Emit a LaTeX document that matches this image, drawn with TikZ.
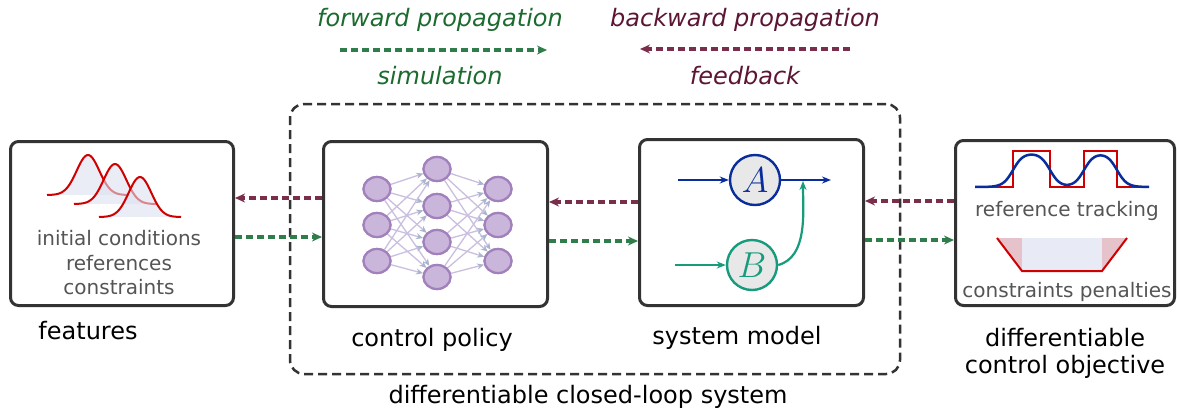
\documentclass[tikz,border=0pt]{standalone}
\usepackage{graphicx}
\usepackage{fontspec}
\setmainfont{DejaVu Sans}
\usetikzlibrary{arrows.meta,shapes.geometric}
\definecolor{boxgray}{HTML}{333333}
\definecolor{fgreen}{HTML}{2E7D4A}
\definecolor{ftext}{HTML}{1B6B2F}
\definecolor{bred}{HTML}{7A2E4B}
\definecolor{btext}{HTML}{5C1634}
\definecolor{nnfill}{HTML}{C9B6DA}
\definecolor{nndraw}{HTML}{A280BC}
\definecolor{nnedgec}{HTML}{CBBFE0}
\definecolor{nnarrow}{HTML}{A9B5CC}
\definecolor{ablue}{HTML}{0A2D9C}
\definecolor{bteal}{HTML}{169B7C}
\definecolor{cgray}{HTML}{E8E8E8}
\definecolor{txtgray}{HTML}{555555}
\definecolor{gfill}{HTML}{DDE1F0}
\definecolor{sred}{HTML}{D00000}
\definecolor{pinkf}{HTML}{E6C3CB}
\definecolor{rectf}{HTML}{E8EAF5}
\begin{document}
\begin{tikzpicture}[x=1pt,y=-1pt,
  declare function={sg(\u)=1/(1+exp(min(9,max(-9,-\u/5))));},
  bigbox/.style={draw=boxgray, line width=3pt, rounded corners=8pt, fill=white},
  lbl/.style={font=\fontsize{24}{27}\selectfont, text=black, align=center},
  innertxt/.style={font=\fontsize{20}{24.5}\selectfont, text=txtgray, align=center},
  legf/.style={font=\fontsize{24}{27}\selectfont\itshape, text=ftext},
  legb/.style={font=\fontsize{24}{27}\selectfont\itshape, text=btext},
  fwd/.style={draw=fgreen, line width=3.5pt, dash pattern=on 7pt off 4pt, -{Stealth[length=10pt,width=9pt]}},
  bwd/.style={draw=bred, line width=3.5pt, dash pattern=on 7pt off 4pt, -{Stealth[length=10pt,width=9pt]}},
  loopbox/.style={draw=boxgray, line width=2.5pt, dash pattern=on 9pt off 5pt, rounded corners=14pt},
  nn/.style={ellipse, draw=nndraw, fill=nnfill, line width=2.2pt, minimum width=27pt, minimum height=24pt, inner sep=0pt},
  nnlink/.style={draw=nnedgec, line width=1.3pt, -{Stealth[length=7pt,width=6pt,color=nnarrow]}},
  sysnode/.style={circle, line width=2.4pt, fill=cgray, minimum size=50pt, inner sep=0pt, font=\fontsize{24}{24}\selectfont},
]
\useasboundingbox (0,0) rectangle (1177,413);

% legend
\node[legf] (tf) at (440,20) {forward propagation};
\node[legf] (ts) at (440,76) {simulation};
\node[legb] (tb) at (745,20) {backward propagation};
\node[legb] (tfb) at (745,76) {feedback};
\coordinate (lf1) at (340,50);
\coordinate (lf2) at (547,50);
\coordinate (lb1) at (850,49);
\coordinate (lb2) at (640,49);
\draw[fwd] (lf1) -- (lf2);
\draw[bwd] (lb1) -- (lb2);

% closed loop dashed box
\node[loopbox, minimum width=610pt, minimum height=270pt] (loop) at (595,239) {};
\node[lbl] (loopl) at (588,397) {differentiable closed-loop system};

% boxes
\node[bigbox, minimum width=223pt, minimum height=164pt] (feat) at (122,223.5) {};
\node[bigbox, minimum width=224pt, minimum height=165pt] (ctrl) at (435.5,224) {};
\node[bigbox, minimum width=224pt, minimum height=166pt] (sys) at (751.5,222.5) {};
\node[bigbox, minimum width=219pt, minimum height=165pt] (obj) at (1065,223) {};

\node[lbl] (featl) at (88,331) {features};
\node[lbl] (ctrll) at (432,340) {control policy};
\node[lbl] (sysl) at (737,338) {system model};
\node[lbl] (objl) at (1065,353) {differentiable\\control objective};

% connectors between boxes
\draw[bwd] (ctrl.west |- 0,198) -- (feat.east |- 0,198);
\draw[fwd] (feat.east |- 0,237) -- (ctrl.west |- 0,237);
\draw[bwd] (sys.west |- 0,202) -- (ctrl.east |- 0,202);
\draw[fwd] (ctrl.east |- 0,241) -- (sys.west |- 0,241);
\draw[bwd] (obj.west |- 0,201) -- (sys.east |- 0,201);
\draw[fwd] (sys.east |- 0,240) -- (obj.west |- 0,240);

% features contents
\foreach \c/\b in {88/195, 115/204, 140/217}{
  \draw[sred, line width=2pt, fill=gfill, fill opacity=0.6]
    plot[domain=\c-41:\c+41, samples=70, smooth] (\x, {\b-40*exp(-((\x-\c)/16)^2)});
}
\node[innertxt] (feattxt) at (119,263) {initial conditions\\references\\constraints};

% neural network
\foreach \i/\y in {1/189, 2/225, 3/261} \node[nn] (l\i) at (377,\y) {};
\foreach \i/\y in {1/169, 2/206, 3/242, 4/277} \node[nn] (m\i) at (437,\y) {};
\foreach \i/\y in {1/189, 2/225, 3/261} \node[nn] (r\i) at (498,\y) {};
\foreach \i in {1,2,3} \foreach \j in {1,2,3,4} \draw[nnlink] (l\i) -- (m\j);
\foreach \j in {1,2,3,4} \foreach \k in {1,2,3} \draw[nnlink] (m\j) -- (r\k);
\foreach \i/\y in {1/189, 2/225, 3/261} \node[nn] at (377,\y) {};
\foreach \i/\y in {1/169, 2/206, 3/242, 4/277} \node[nn] at (437,\y) {};
\foreach \i/\y in {1/189, 2/225, 3/261} \node[nn] at (498,\y) {};

% system model
\node[sysnode, draw=ablue, text=ablue] (A) at (755,180) {\scalebox{1.45}{$A$}};
\node[sysnode, draw=bteal, text=bteal] (B) at (752,265) {\scalebox{1.45}{$B$}};
\coordinate (ain) at (678,180);
\coordinate (aout) at (831,180);
\coordinate (bin) at (675,265);
\coordinate (amid) at (803,181);
\draw[ablue, line width=2.2pt, -{Stealth[length=9pt,width=7pt]}] (ain) -- (A);
\draw[ablue, line width=2.2pt, -{Stealth[length=9pt,width=7pt]}] (A) -- (aout);
\draw[bteal, line width=2.2pt, -{Stealth[length=9pt,width=7pt]}] (bin) -- (B);
\draw[bteal, line width=2.2pt, -{Stealth[length=9pt,width=7pt]}] (B.east) to[out=15, in=-90, looseness=0.9] (amid);

% objective contents
\draw[sred, line width=2pt] (985,187) -| (1013,151) -| (1050,187) -| (1084,151) -| (1117,187) -- (1143,187);
\draw[ablue, line width=2.5pt] plot[domain=975:1149, samples=150, smooth]
  (\x, {187-34*(sg(\x-1013)-sg(\x-1050)+sg(\x-1084)-sg(\x-1117))});
\node[innertxt] (reft) at (1067,211) {reference tracking};
\fill[pinkf] (997,238) -- (1022,238) -- (1022,271) -- cycle;
\fill[pinkf] (1127,238) -- (1102,238) -- (1102,271) -- cycle;
\fill[rectf] (1022,238) rectangle (1102,271);
\draw[sred, line width=2pt] (997,238) -- (1022,271) -- (1102,271) -- (1127,238);
\node[innertxt] (cont) at (1067,292) {constraints penalties};
\end{tikzpicture}
\end{document}
